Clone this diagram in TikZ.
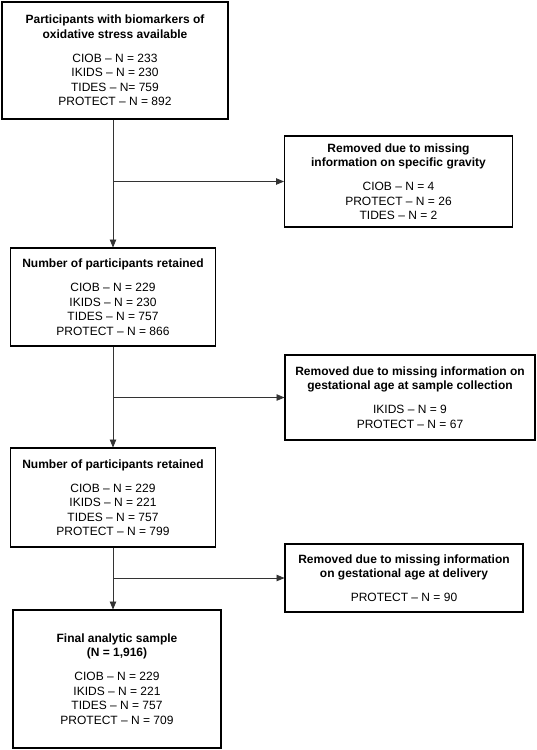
\documentclass[tikz,border=0pt]{standalone}
\usepackage{fontspec}
\setmainfont{Liberation Sans}
\usepackage{tikz}
\usetikzlibrary{arrows}
\tikzstyle{stage} = [rectangle,fill=white,draw=black,line width=1.1pt,inner sep=2pt,
align=center, font=\fontsize{12}{14.5}\selectfont]
\tikzstyle{removed} = [stage]
\newcommand{\flow}[3][]{ %
  % Connect all nodes #2 to all nodes #3.
  \foreach \x in {#2} { %
    \foreach \y in {#3} { %
      \path (\x) edge [->, >={triangle 45}, draw=black!80, line width=0.8pt, #1] (\y) ;%
    } ;
  } ;
}
\newcommand{\gap}{\\[9.5pt]}

\begin{document}
\begin{tikzpicture}[x=1pt,y=-1pt]
  \useasboundingbox (0,0) rectangle (537,750);
  \node[stage,minimum width=226pt,minimum height=117pt](avail) at (115,60.5)
    {\textbf{Participants with biomarkers of}\\\textbf{oxidative stress available}\gap
     CIOB -- N = 233\\IKIDS -- N = 230\\TIDES -- N= 759\\PROTECT -- N = 892};
  \node[removed,minimum width=228pt,minimum height=91pt](gravity) at (398.5,181.5)
    {\textbf{Removed due to missing}\\\textbf{information on specific gravity}\gap
     CIOB -- N = 4\\PROTECT -- N = 26\\TIDES -- N = 2};
  \node[stage,minimum width=205pt,minimum height=98pt](kept1) at (113,297)
    {\textbf{Number of participants retained}\gap
     CIOB -- N = 229\\IKIDS -- N = 230\\TIDES -- N = 757\\PROTECT -- N = 866};
  \node[removed,minimum width=250pt,minimum height=85pt](gasample) at (410,397.5)
    {\textbf{Removed due to missing information on}\\\textbf{gestational age at sample collection}\gap
     IKIDS -- N = 9\\PROTECT -- N = 67};
  \node[stage,minimum width=205pt,minimum height=99pt](kept2) at (113,497.5)
    {\textbf{Number of participants retained}\gap
     CIOB -- N = 229\\IKIDS -- N = 221\\TIDES -- N = 757\\PROTECT -- N = 799};
  \node[removed,minimum width=238pt,minimum height=68pt](gadeliv) at (404,578)
    {\textbf{Removed due to missing information}\\\textbf{on gestational age at delivery}\gap
     PROTECT -- N = 90};
  \node[stage,minimum width=208pt,minimum height=138pt](final) at (117,679)
    {\textbf{Final analytic sample}\\\textbf{(N = 1,916)}\gap
     CIOB -- N = 229\\IKIDS -- N = 221\\TIDES -- N = 757\\PROTECT -- N = 709};
  \coordinate (t0) at (kept1.north |- avail.south);
  \coordinate (t3) at (kept2.south |- final.north);
  \coordinate (s1) at (kept1.north |- gravity.west);
  \coordinate (s2) at (kept1.south |- gasample.west);
  \coordinate (s3) at (kept2.south |- gadeliv.west);
  \flow{t0}{kept1};
  \flow{kept1}{kept2};
  \flow{kept2}{t3};
  \flow{s1}{gravity};
  \flow{s2}{gasample};
  \flow{s3}{gadeliv};
\end{tikzpicture}
\end{document}
